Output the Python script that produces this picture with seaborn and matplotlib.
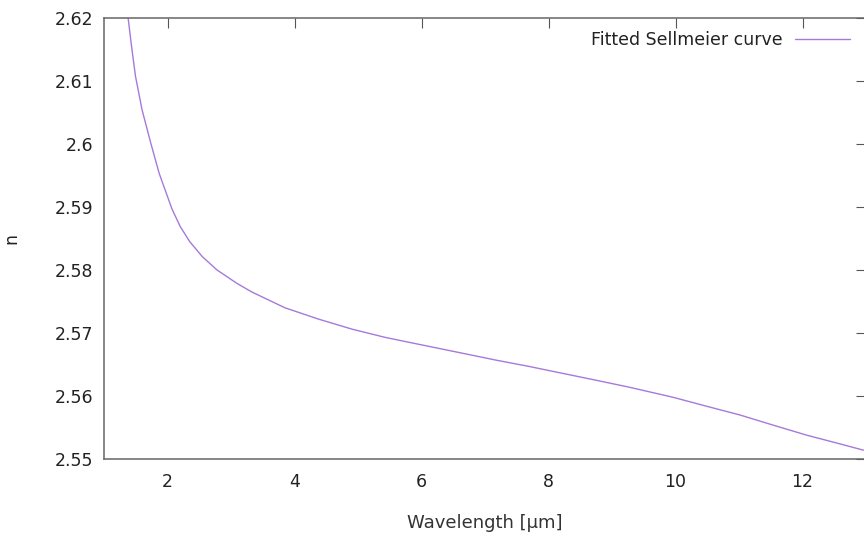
import numpy as np
import pandas as pd
import matplotlib
matplotlib.use("Agg")
import matplotlib.pyplot as plt
import seaborn as sns

# values
wavelength = [1.38, 1.43, 1.495, 1.60, 1.735, 1.87, 2.07, 2.2, 2.35, 2.55,
              2.78, 3.09, 3.33, 3.85, 4.38, 4.91, 5.43, 5.96, 6.64, 7.17,
              7.69, 8.22, 8.75, 9.27, 9.96, 10.48, 11.01, 11.53, 12.06, 12.59,
              12.96]
n_index = [2.6200, 2.6158, 2.6108, 2.6054, 2.6002, 2.5953, 2.5897, 2.5869, 2.5845, 2.5821,
           2.5800, 2.5779, 2.5765, 2.5740, 2.5722, 2.5706, 2.5693, 2.5682, 2.5668, 2.5657,
           2.5647, 2.5636, 2.5625, 2.5614, 2.5598, 2.5584, 2.5570, 2.5554, 2.5538, 2.5524,
           2.5514]
x_ticks = [2, 4, 6, 8, 10, 12]
y_ticks = [2.55, 2.56, 2.57, 2.58, 2.59, 2.6, 2.61, 2.62]
y_tick_labels = ["2.55", "2.56", "2.57", "2.58", "2.59", "2.6", "2.61", "2.62"]

df = pd.DataFrame({"wavelength": wavelength, "n": n_index,
                   "curve": "Fitted Sellmeier curve"})

sns.set_theme(style="white")
plt.rcParams["font.family"] = ["DejaVu Sans"]

fig = plt.figure(figsize=(8.64, 5.38), dpi=100)
ax = fig.add_axes([104 / 864, 1 - 459 / 538, (866 - 104) / 864, (459 - 18) / 538])

sns.lineplot(data=df, x="wavelength", y="n", hue="curve", palette=["#a47adb"],
             estimator=None, sort=True, linewidth=1.0, ax=ax)

ax.set_xlim(1, 13)
ax.set_ylim(2.55, 2.62)
ax.set_xticks(x_ticks)
ax.set_xticklabels([str(t) for t in x_ticks])
ax.set_yticks(y_ticks)
ax.set_yticklabels(y_tick_labels)

for s in ax.spines.values():
    s.set_color("#666666")
    s.set_linewidth(1.1)
    s.set_visible(True)
ax.tick_params(axis="both", direction="in", length=7, width=0.8, color="#555555",
               top=True, right=True, labelsize=12.5, labelcolor="#222222")
ax.tick_params(axis="x", pad=10)
ax.tick_params(axis="y", pad=8)

ax.set_xlabel("Wavelength [μm]", fontsize=13, color="#333333")
ax.set_ylabel("n", fontsize=12.5, color="#222222")
ax.xaxis.set_label_coords(0.5, -0.125)
ax.yaxis.set_label_coords(-0.11, 0.5)

ax.legend(loc="upper right", bbox_to_anchor=(1.0, 1.005), frameon=False,
          markerfirst=False, fontsize=12.5, handlelength=3.2, handletextpad=0.7,
          labelcolor="#222222")

fig.savefig("out.png", dpi=100)
